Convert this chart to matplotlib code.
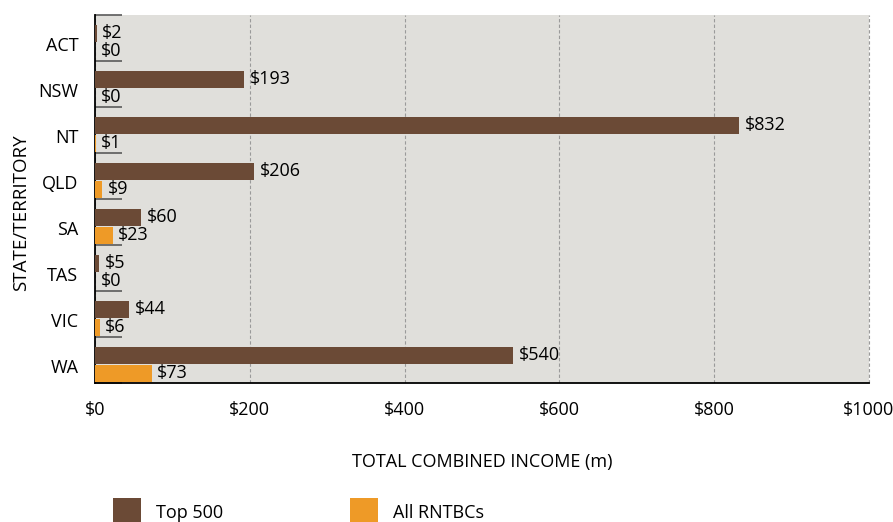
import numpy as np
import matplotlib.pyplot as plt
from matplotlib.transforms import ScaledTranslation

# Income by state/territory ($m)
states = ['ACT', 'NSW', 'NT', 'QLD', 'SA', 'TAS', 'VIC', 'WA']
top500 = [2, 193, 832, 206, 60, 5, 44, 540]
all_rntbcs = [0, 0, 1, 9, 23, 0, 6, 73]

brown = '#6B4A36'
orange = '#EE9A27'

plt.rcParams['font.family'] = ['Open Sans', 'DejaVu Sans']

fig = plt.figure(figsize=(8.93, 5.22), dpi=100)
ax = fig.add_axes([95 / 893, 1 - 383 / 522, 774 / 893, 368 / 522])
ax.set_facecolor('#E0DFDB')

y = np.arange(len(states))
h = 0.37
y_top = y - 0.098
y_all = y + 0.293

b1 = ax.barh(y_top, top500, height=h, color=brown, label='Top 500', zorder=3)
b2 = ax.barh(y_all, all_rntbcs, height=h, color=orange, label='All RNTBCs', zorder=3)

for yy, v in zip(y_top, top500):
    ax.annotate(f'${v}', (v, yy), xytext=(4, 0), textcoords='offset points',
                va='center', ha='left', fontsize=13, zorder=4)
for yy, v in zip(y_all, all_rntbcs):
    ax.annotate(f'${v}', (v, yy), xytext=(4, 0), textcoords='offset points',
                va='center', ha='left', fontsize=13, zorder=4)

ax.set_xlim(0, 1000)
ax.set_ylim(len(states) - 0.5, -0.5)
ax.set_xticks(np.arange(0, 1001, 200))
ax.set_xticklabels([f'${v}' for v in range(0, 1001, 200)])
ax.set_yticks(y)
ax.set_yticklabels(states)
ax.set_yticks(np.arange(-0.5, len(states), 1), minor=True)

ax.tick_params(axis='x', length=0, pad=13, labelsize=13)
ax.tick_params(axis='y', which='major', length=0, pad=12, labelsize=13)
ax.tick_params(axis='y', which='minor', direction='in', length=19.5,
               width=1.2, color='#5a5a5a')

# state names sit a little below the band centre
shift = ScaledTranslation(0, -6 / 100, fig.dpi_scale_trans)
for lbl in ax.get_yticklabels():
    lbl.set_transform(lbl.get_transform() + shift)

ax.grid(axis='x', color='#9a9a9a', linestyle=(0, (3, 2)), linewidth=0.8, zorder=1)
ax.axvline(1000, color='#9a9a9a', linestyle=(0, (3, 2)), linewidth=0.8,
           clip_on=False, zorder=1)

for side in ['top', 'right']:
    ax.spines[side].set_visible(False)
for side in ['left', 'bottom']:
    ax.spines[side].set_color('black')
    ax.spines[side].set_linewidth(1.3)

ax.set_xlabel('TOTAL COMBINED INCOME (m)', fontsize=13)
ax.xaxis.set_label_coords(0.5, -0.190)
ax.set_ylabel('STATE/TERRITORY', fontsize=13.5)
ax.yaxis.set_label_coords(-0.084, 0.462)

fig.legend(handles=[b1, b2], loc='upper left', bbox_to_anchor=(113 / 893, 1 - 498 / 522),
           ncol=2, frameon=False, fontsize=13, borderpad=0, borderaxespad=0,
           handlelength=1.55, handleheight=2.05, handletextpad=0.85, columnspacing=7)

fig.savefig('out.png', dpi=100)
